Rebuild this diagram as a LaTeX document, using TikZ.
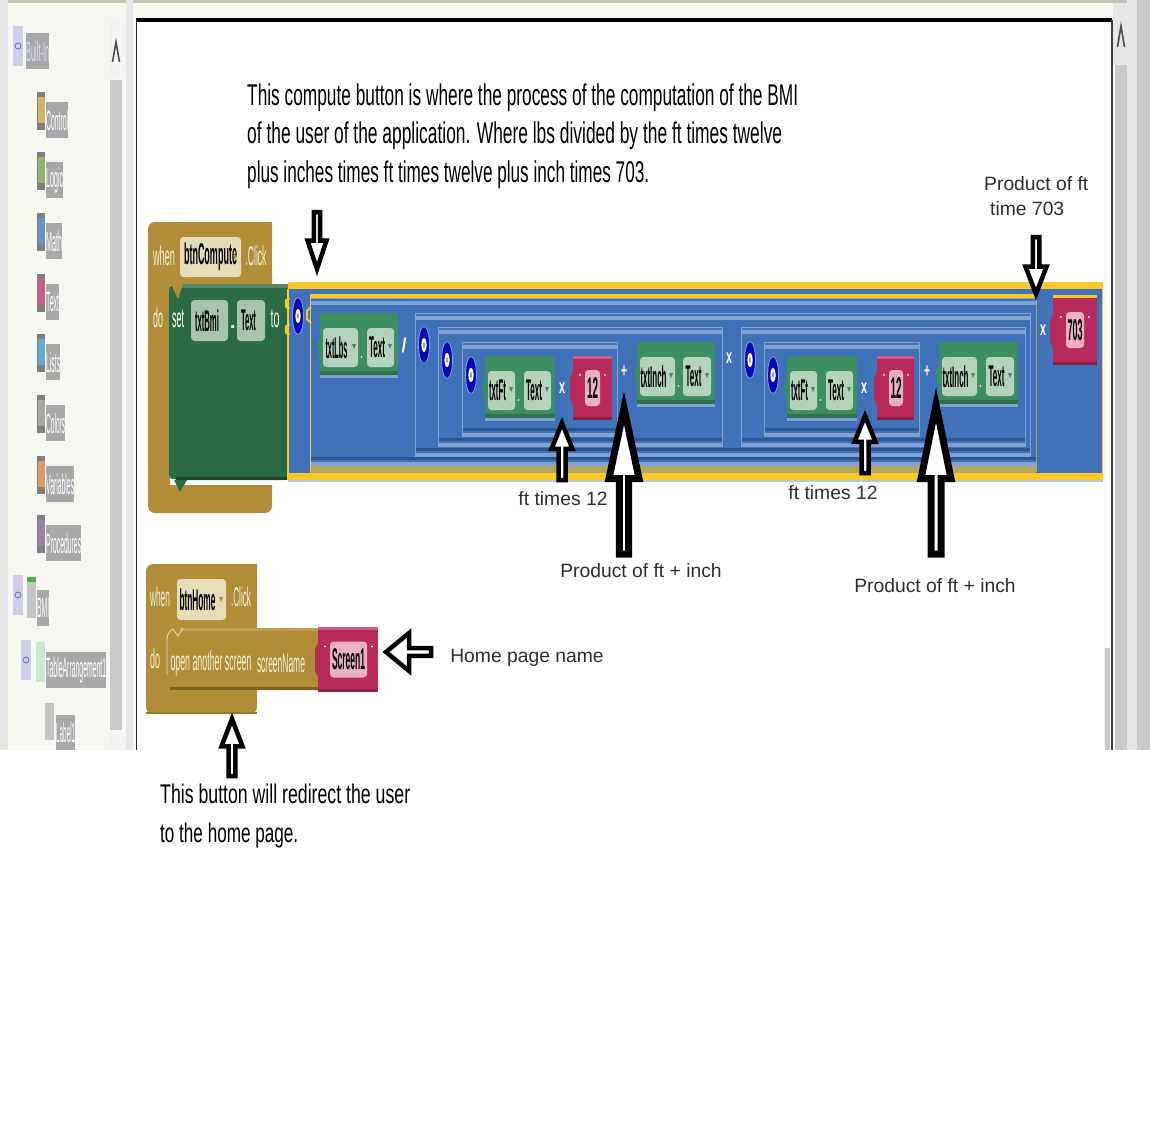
\documentclass[tikz,border=0pt]{standalone}
\usepackage{fontspec}
\setmainfont{Liberation Sans}
\usepackage{graphicx}
\usetikzlibrary{shapes.arrows, shapes.geometric}

\definecolor{brownblock}{HTML}{B08D36}
\definecolor{brownpill}{HTML}{E6DCB8}
\definecolor{brownword}{HTML}{F5EFDC}
\definecolor{setgreen}{HTML}{2A6A44}
\definecolor{getgreen}{HTML}{3D8F62}
\definecolor{pillgreen}{HTML}{B4D2BC}
\definecolor{setpill}{HTML}{A9C4AE}
\definecolor{mathblue}{HTML}{3F72B8}
\definecolor{lightblue}{HTML}{83A2D0}
\definecolor{darkblue}{HTML}{2C5796}
\definecolor{stripe}{HTML}{FBC828}
\definecolor{tanband}{HTML}{B3A661}
\definecolor{textred}{HTML}{B82A5C}
\definecolor{pillred}{HTML}{EBB0C6}
\definecolor{panel}{HTML}{F6F7F0}
\definecolor{olive}{HTML}{C3C6B0}
\definecolor{track}{HTML}{C9C9C9}
\definecolor{side}{HTML}{E6E6E6}
\definecolor{labelgrey}{HTML}{A8A8A8}
\definecolor{mutblue}{HTML}{0808B8}

\newcommand{\fitw}[2]{\resizebox{#1pt}{\height}{#2}}
\newcommand{\nestbox}[4]{%
	\fill[mathblue] (#1,#2) rectangle (#3,#4);
	\fill[lightblue] (#1,#2+3) rectangle (#3,#2+7);
	\fill[darkblue] (#1,#4-9) rectangle (#3,#4-6);
	\fill[lightblue] (#1,#4-4) rectangle (#3,#4);
	\draw[lightblue, line width=.8pt] (#1,#4) -- (#1,#2) -- (#3,#2) -- (#3,#4);
}
\newcommand{\getter}[8]{%
	\fill[getgreen] (#2,#3) rectangle (#4,#3+62);
	\fill[getgreen!80!black] (#2,#3+58) rectangle (#4,#3+62);
	\fill[lightblue] (#2,#3+62) rectangle (#4,#3+65);
	\fill[pillbox, fill=pillgreen] (#2+3,#3+15) rectangle node[pilltext] (#1) {\fitw{#8}{#7}\hspace*{8pt}} (#5,#3+54);
	\fill[pillbox, fill=pillgreen] (#6,#3+15) rectangle node[pilltext] (#1t) {\fitw{16}{Text}\hspace*{7pt}} (#4-4,#3+54);
	\fill[white] (#5+3.5,#3+44) circle (.9);
	\fill[getgreen] (#5-6,#3+31) -- (#5-2,#3+31) -- (#5-4,#3+36) -- cycle;
	\fill[getgreen] (#4-10,#3+31) -- (#4-6,#3+31) -- (#4-8,#3+36) -- cycle;
	\fill[getgreen] (#2-3,#3+30) -- (#2,#3+24) -- (#2,#3+48) -- cycle;
}
\newcommand{\literal}[9]{%
	\fill[textred] (#2,#3) rectangle (#4,#5);
	\fill[textred!75!white] (#2,#3) rectangle (#4,#3+3);
	\fill[textred!75!black] (#2,#5-3) rectangle (#4,#5);
	\fill[textred] (#2,{(#3+#5)/2-16}) -- (#2-3,{(#3+#5)/2-11}) -- (#2-3,{(#3+#5)/2+12}) -- (#2,{(#3+#5)/2+17}) -- cycle;
	\fill[pillbox, fill=pillred] (#6,{(#3+#5)/2-18}) rectangle node[pilltext] (#1) {\fitw{#9}{#8}} (#7,{(#3+#5)/2+18});
	\fill[white] (#6-5,{(#3+#5)/2-13}) circle (1.1);
	\fill[white] (#7+5,{(#3+#5)/2-13}) circle (1.1);
}

\begin{document}
\begin{tikzpicture}[
	x=1pt, y=-1pt,
	pillbox/.style={rounded corners=3.5pt},
	pilltext/.style={inner sep=0pt, text=black, font=\fontsize{30}{30}\selectfont\bfseries},
	word/.style={inner sep=0pt, text=brownword, font=\fontsize{27}{27}\selectfont},
	oper/.style={inner sep=0pt, text=white, font=\fontsize{20}{20}\selectfont\bfseries},
	note/.style={inner sep=0pt, text=black!82, font=\fontsize{19.3}{25}\selectfont},
	longnote/.style={inner sep=0pt, text=black, align=left, anchor=west},
	mutator/.style={ellipse, draw=lightblue, line width=.8pt, fill=mutblue, minimum width=11pt, minimum height=37pt, inner sep=0pt},
	hollow/.style n args={5}{single arrow, draw=black, fill=white, inner sep=0pt, outer sep=0pt, anchor=tip,
		rotate=#1, minimum height=#2pt, minimum width=#3pt,
		single arrow head extend={(#3pt-#4pt)/2}, single arrow tip angle=#5},
	iconbox/.style={inner sep=0pt, fill=labelgrey, text=white, font=\fontsize{28}{28}\selectfont, anchor=west, minimum height=36pt},
	chevron/.style={draw=black!70, line width=1.6pt},
	]
	\useasboundingbox (0,0) rectangle (1150,1134);
	\fill[white] (0,0) rectangle (1150,1134);

	% Window frame
	\fill[side] (0,0) rectangle (8,750);
	\fill[panel] (8,0) rectangle (126,750);
	\fill[olive] (8,0) rectangle (126,3);
	\fill[side] (126,0) rectangle (133,750);
	\fill[panel] (133,0) rectangle (1113,20);
	\fill[panel] (133,0) rectangle (136,750);
	\fill[olive] (133,0) rectangle (1128,3);
	\fill[side] (1113,3) rectangle (1128,65);
	\fill[track] (1115,65) rectangle (1127,750);
	\fill[side] (1127,0) rectangle (1137,750);
	\fill[track] (1137,0) rectangle (1150,750);
	\fill[side!50!white] (110,18) rectangle (122,78);
	\fill[track] (110,80) rectangle (122,730);
	\fill[side!50!white] (110,730) rectangle (122,750);
	\fill[track] (1105,648) rectangle (1110,750);
	\draw[side!50!white, line width=.8pt] (1104,750) -- (1104,28) -- (1110,28);
	\draw[black, line width=4pt] (136,20) -- (1112,20);
	\draw[black!85, line width=1.2pt] (136.5,20) -- (136.5,750);
	\draw[black!75, line width=1.2pt] (1112,20) -- (1112,750);
	\draw[chevron] (112.5,62) -- (116,42) -- (119.5,62);
	\draw[chevron] (1117.5,47) -- (1121,26) -- (1124.5,47);

	% Palette list
	\foreach \nm/\col/\ytop/\labw/\lab in {
		control/D2B36A/92/22/Control, logic/93B36B/152/17/Logic, math/6A92C4/213/16/Math,
		text/C6608A/274/13/Text, lists/62ABCB/334/14/Lists, colors/A6A6A6/395/19/Colors,
		variables/DE9860/456/28/Variables, procedures/9A82A8/515/35/Procedures} {
		\definecolor{iconcol}{HTML}{\col}
		\fill[gray] (37,\ytop) rectangle (45,\ytop+38);
		\fill[iconcol] (38,\ytop+5) rectangle (45,\ytop+31);
		\node[iconbox, minimum width=\labw pt] (\nm) at (46,\ytop+28) {\fitw{\labw}{\lab}};
	}
	\foreach \nm/\mx/\my in {builtin/13/26, bmi/13/575, table/21/640} {
		\fill[side!90!blue] (\mx,\my) rectangle (\mx+10,\my+40);
		\node[circle, draw=mutblue!60, line width=.8pt, inner sep=0pt, minimum size=6pt] (\nm) at (\mx+5,\my+20) {};
	}
	\node[iconbox, minimum width=23pt, text=blue!15] (builtinlab) at (26,51) {\fitw{23}{Built-In}};
	\fill[side!85!black] (27,577) rectangle (36,618);
	\fill[green!40!gray] (27,577) rectangle (36,582);
	\node[iconbox, minimum width=12pt] (bmilab) at (37,608) {\fitw{12}{BMI}};
	\fill[side!88!green] (36,642) rectangle (45,682);
	\node[iconbox, minimum width=60pt] (tablelab) at (46,670) {\fitw{60}{TableArrangement1}};
	\fill[side!85!black] (45,703) rectangle (54,740);
	\node[iconbox, minimum width=19pt, minimum height=35pt] (labellab) at (56,732) {\fitw{19}{Label1}};

	% when btnCompute
	\fill[brownblock, rounded corners=7pt] (272,222) -- (148,222) -- (148,513) -- (272,513) [sharp corners] -- (272,485) -- (170,485) -- (170,285) -- (272,285) -- cycle;
	\fill[pillbox, fill=brownpill] (180,237) rectangle node[pilltext] (btncompute) {\fitw{53}{btnCompute}} (241,277);
	\fill[brownblock] (233,255) -- (237,255) -- (235,260) -- cycle;
	\node[word] (when) at (164,256) {\fitw{22}{when}};
	\node[word] (click) at (256,256) {\fitw{21}{.Click}};
	\node[word] (do) at (158,318) {\fitw{10}{do}};
	\fill[setgreen, rounded corners=6pt] (288,284) -- (169,284) -- (169,480) -- (288,480) [sharp corners] -- cycle;
	\fill[setgreen!80!white] (178,284) rectangle (288,288);
	\fill[setgreen!65!black] (176,477) rectangle (288,480);
	\fill[brownblock] (171,284) -- (183,284) -- (178,299) -- cycle;
	\fill[white] (170,479) -- (175,484) -- (180,484) -- (175,479) -- cycle;
	\fill[setgreen] (174,480) -- (187,480) -- (180,492) -- cycle;
	\node[word, text=white] (set) at (178,319) {\fitw{12}{set}};
	\fill[pillbox, fill=setpill] (191,300) rectangle node[pilltext] (txtbmi) {\fitw{24}{txtBmi}\hspace*{5pt}} (228,341);
	\node[oper] (dot) at (233,327) {.};
	\fill[pillbox, fill=setpill] (237,300) rectangle node[pilltext] (settext) {\fitw{15}{Text}\hspace*{5pt}} (265,341);
	\node[word] (to) at (275,319) {\fitw{9}{to}};

	% Math block
	\fill[mathblue] (288,282) rectangle (1103,480);
	\fill[stripe] (288,282) rectangle (1103,289);
	\fill[stripe] (288,473) rectangle (1103,480);
	\fill[lightblue!60!white] (288,480) rectangle (1103,481.5);
	\fill[stripe] (1102,282) rectangle (1103,480);
	\draw[stripe, line width=1.6pt] (288,289) -- (288,480);
	\nestbox{310}{298}{1036}{466}
	\fill[tanband] (310,466) rectangle (1036,473);
	\fill[stripe] (310,294) rectangle (1036,298);
	\draw[stripe, line width=1.5pt] (310.5,294) -- (310.5,472);
	\draw[tanband, line width=1pt] (1036.5,298) -- (1036.5,472);
	\draw[stripe, line width=2.5pt] (289,298) -- (286,301) -- (286,306) -- (289,309);
	\draw[stripe, line width=2.5pt] (289,324) -- (286,327) -- (286,332) -- (289,335);
	\draw[stripe, line width=2pt] (311,307) -- (307,311) -- (307,319) -- (311,323);
	\draw[stripe, line width=2pt] (1055,312) -- (1052,320) -- (1052,338) -- (1055,346);

	\nestbox{415}{313}{1030}{457}
	\nestbox{438}{327}{722}{447}
	\nestbox{462}{342}{617}{437}
	\nestbox{741}{327}{1025}{447}
	\nestbox{764}{342}{919}{437}

	\getter{lbs}{320}{313}{398}{358}{367}{txtLbs}{22}
	\getter{ftone}{485}{356}{555}{515}{524}{txtFt}{17}
	\getter{inchone}{637}{342}{715}{675}{683}{txtInch}{26}
	\getter{fttwo}{787}{356}{857}{817}{826}{txtFt}{17}
	\getter{inchtwo}{939}{342}{1018}{977}{986}{txtInch}{26}
	\literal{twelveone}{573}{356}{612}{420}{585}{600}{12}{11}
	\literal{twelvetwo}{877}{356}{914}{420}{889}{903}{12}{11}
	\literal{factor}{1053}{295}{1097}{365}{1066}{1084}{703}{15}
	\fill[stripe] (1053,295) rectangle (1097,298);

	\foreach \nm/\mx/\my in {mone/298/316, mtwo/424/345, mthree/447/360, mfour/471/375, mfive/750/360, msix/773/375} {
		\node[mutator] (\nm) at (\mx,\my) {};
		\fill[white] (\mx,\my) ellipse (2.6 and 7);
		\fill[lightblue] (\mx,\my) ellipse (1 and 3);
	}
	\node[oper] (divide) at (404,345) {\fitw{5}{/}};
	\foreach \nm/\mx/\my/\oper in {timesone/562/388/x, plusone/624/372/+, timestwo/729/358/x, timesthree/864/388/x, plustwo/927/372/+, timesfour/1043/330/x} {
		\node[oper] (\nm) at (\mx,\my) {\fitw{6}{\oper}};
	}

	% when btnHome
	\fill[brownblock, rounded corners=7pt] (257,564) -- (146,564) -- (146,714) -- (257,714) [sharp corners] -- (257,690) -- (318,690) -- (318,628) -- (257,628) -- cycle;
	\fill[brownblock!85!black] (146,712) rectangle (257,714);
	\fill[brownblock!85!white] (180,628) rectangle (318,631);
	\draw[brownpill!80!white, line width=.7pt] (167,675) -- (167,640) to[bend left=30] (173,629) -- (178,636) -- (183,628);
	\fill[brownblock!70!black] (170,687) rectangle (318,690);
	\fill[pillbox, fill=brownpill] (177,579) rectangle node[pilltext] (btnhome) {\fitw{36}{btnHome}\hspace*{8pt}} (226,620);
	\fill[brownblock] (219,597) -- (223,597) -- (221,602) -- cycle;
	\node[word] (whentwo) at (160,597) {\fitw{20}{when}};
	\node[word] (clicktwo) at (241,597) {\fitw{20}{.Click}};
	\node[word] (dotwo) at (155,659) {\fitw{10}{do}};
	\node[word] (openscreen) at (211,664) {\fitw{81}{open another screen}};
	\node[word] (screenname) at (281,663) {\fitw{48}{screenName}};
	\literal{screenone}{318}{627}{378}{692}{330}{367}{Screen1}{33}

	% Explanations
	\node[longnote, font=\fontsize{30}{38.5}\selectfont] (compute) at (247,136) {\fitw{551}{This compute button is where the process of the computation of the BMI}\\
		\fitw{535}{of the user of the application. Where lbs divided by the ft times twelve}\\
		\fitw{402}{plus inches times ft times twelve plus inch times 703.}};
	\node[longnote, font=\fontsize{27}{38.5}\selectfont] (redirect) at (160,816) {\fitw{250}{This button will redirect the user}\\
		\fitw{138}{to the home page.}};
	\node[note, align=left, anchor=west] (factornote) at (984,196) {Product of ft\\\hspace*{6pt}time 703};
	\node[note] (ftnoteone) at (563,499) {ft times 12};
	\node[note] (ftnotetwo) at (833,493) {ft times 12};
	\node[note] (sumnoteone) at (641,571) {Product of ft + inch};
	\node[note] (sumnotetwo) at (935,586) {Product of ft + inch};
	\node[note] (homenote) at (527,658) {Home page name};

	% Pointers
	\node[hollow={-90}{57}{19}{10}{37}, line width=4.5pt] (pcompute) at (317,269) {};
	\node[hollow={-90}{57}{21}{11}{42}, line width=4.5pt] (pfactor) at (1036,294) {};
	\node[hollow={90}{57}{21}{12}{44}, line width=4.5pt] (pftone) at (562,423) {};
	\node[hollow={90}{57}{21}{12}{44}, line width=4.5pt] (pfttwo) at (865,416) {};
	\node[hollow={90}{146}{30}{14}{24}, line width=7pt] (psumone) at (624,408) {};
	\node[hollow={90}{149}{30}{16}{23}, line width=7pt] (psumtwo) at (936,405) {};
	\node[hollow={180}{45}{38}{21}{79}, line width=4.5pt] (phomename) at (386,652) {};
	\node[hollow={90}{57}{21}{11}{42}, line width=4.5pt] (phome) at (232,719) {};
\end{tikzpicture}
\end{document}
